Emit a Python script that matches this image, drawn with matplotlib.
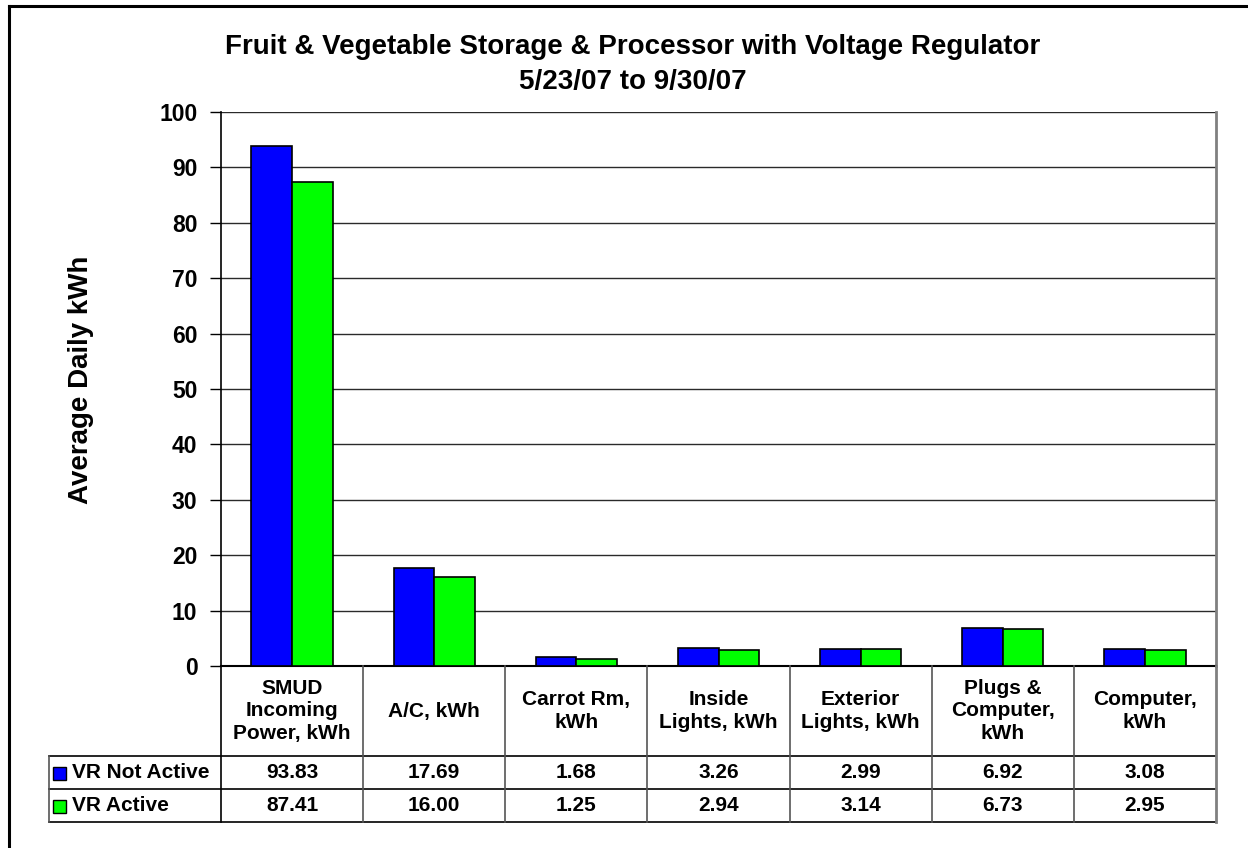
import matplotlib
matplotlib.use("Agg")
import matplotlib.pyplot as plt
from matplotlib import font_manager
from matplotlib.transforms import blended_transform_factory
from matplotlib.patches import Rectangle
from matplotlib.lines import Line2D

categories = ["SMUD\nIncoming\nPower, kWh", "A/C, kWh", "Carrot Rm,\nkWh",
              "Inside\nLights, kWh", "Exterior\nLights, kWh",
              "Plugs &\nComputer,\nkWh", "Computer,\nkWh"]
series_names = ["VR Not Active", "VR Active"]
vr_not_active = [93.83, 17.69, 1.68, 3.26, 2.99, 6.92, 3.08]
vr_active = [87.41, 16.00, 1.25, 2.94, 3.14, 6.73, 2.95]
colors = ["#0000FF", "#00FF00"]
yticks = [0, 10, 20, 30, 40, 50, 60, 70, 80, 90, 100]
title_lines = ["Fruit & Vegetable Storage & Processor with Voltage Regulator", "5/23/07 to 9/30/07"]
ylabel = "Average Daily kWh"

avail = {f.name for f in font_manager.fontManager.ttflist}
base = "Liberation Sans" if "Liberation Sans" in avail else "DejaVu Sans"
plt.rcParams["font.family"] = [base, "DejaVu Sans"]
plt.rcParams["font.weight"] = "bold"

W, H = 1248, 848
fig = plt.figure(figsize=(W / 100, H / 100), dpi=100)

def fx(px):
    return px / W

def fy(py):
    return 1 - py / H

L, R, T, B = 221, 1216, 112, 666
ax = fig.add_axes([fx(L), fy(B), fx(R - L), (B - T) / H])

n = len(categories)
x = list(range(n))
bw = 0.286
ax.bar([i - bw / 2 for i in x], vr_not_active, bw, color=colors[0], edgecolor="black", linewidth=1.2, zorder=3)
ax.bar([i + bw / 2 for i in x], vr_active, bw, color=colors[1], edgecolor="black", linewidth=1.2, zorder=3)
ax.set_xlim(-0.5, n - 0.5)
ax.set_ylim(0, 100)
ax.set_yticks(yticks)
ax.set_yticklabels([str(t) for t in yticks], fontsize=16.5, fontweight="bold")
ax.tick_params(axis="y", length=8, width=1, direction="out", pad=9, colors="black")
ax.set_xticks([])
ax.grid(axis="y", color="#2a2a2a", linewidth=1, zorder=0)
ax.spines["top"].set_visible(False)
ax.spines["left"].set_linewidth(1.2)
ax.spines["bottom"].set_linewidth(1.5)
ax.spines["right"].set_color("#808080")
ax.spines["right"].set_linewidth(2)

# Title
fig.text(fx(633), fy(47), title_lines[0], ha="center", va="center", fontsize=20, fontweight="bold")
fig.text(fx(633), fy(82), title_lines[1], ha="center", va="center", fontsize=20, fontweight="bold")

# Y label
fig.text(fx(81), fy(380), ylabel, rotation=90, ha="center", va="center", fontsize=20, fontweight="bold")

# Data table
tr = blended_transform_factory(ax.transData, fig.transFigure)
rows_y = [666, 756, 789, 822]
tbl_left = 49
for yy in rows_y[1:]:
    fig.add_artist(Line2D([fx(tbl_left), fx(R)], [fy(yy), fy(yy)], color="black", linewidth=1.2))
for i in range(n + 1):
    col = "black" if i == 0 else "#555555"
    lw = 1.2
    if i == n:
        col, lw = "#808080", 2
    fig.add_artist(Line2D([i - 0.5, i - 0.5], [fy(rows_y[0]), fy(rows_y[-1])], transform=tr, color=col, linewidth=lw))
fig.add_artist(Line2D([fx(tbl_left), fx(tbl_left)], [fy(rows_y[1]), fy(rows_y[-1])], color="#555555", linewidth=1.2))

for i, c in enumerate(categories):
    fig.text(i, fy((rows_y[0] + rows_y[1]) / 2), c, transform=tr, ha="center", va="center",
             fontsize=15, fontweight="bold", linespacing=1.25)
for r, vals in enumerate([vr_not_active, vr_active]):
    ymid = fy((rows_y[r + 1] + rows_y[r + 2]) / 2)
    for i, v in enumerate(vals):
        fig.text(i, ymid, f"{v:.2f}", transform=tr, ha="center", va="center",
                 fontsize=15, fontweight="bold")
    ky = (rows_y[r + 1] + rows_y[r + 2]) / 2
    fig.add_artist(Rectangle((fx(53), fy(ky + 7)), fx(13), 13 / H, facecolor=colors[r],
                             edgecolor="black", linewidth=1))
    fig.text(fx(72), fy(ky), series_names[r], ha="left", va="center", fontsize=15, fontweight="bold")

# outer chart border (left and top visible)
fig.add_artist(Line2D([fx(9), fx(9)], [0, fy(6)], color="black", linewidth=2.2))
fig.add_artist(Line2D([fx(9), 1], [fy(6), fy(6)], color="black", linewidth=2.2))

fig.savefig("out.png", dpi=100)
